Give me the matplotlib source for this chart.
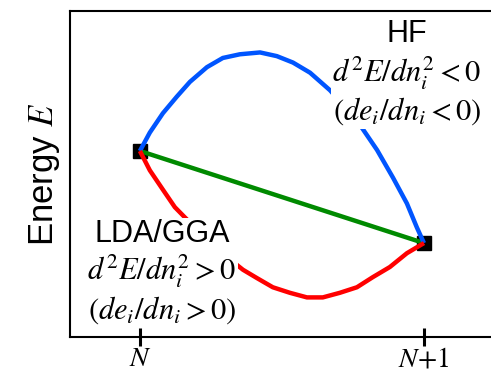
import matplotlib
matplotlib.use("Agg")
import matplotlib.pyplot as plt

plt.rcParams["font.family"] = "Liberation Sans"
plt.rcParams["mathtext.fontset"] = "stix"

# particle number, in units of one electron added to N
hf_n = [0.0, 0.035, 0.081, 0.130, 0.176, 0.236, 0.292, 0.352, 0.423, 0.482,
        0.539, 0.599, 0.669, 0.725, 0.782, 0.835, 0.891, 0.940, 0.975, 1.0]
hf_e = [1.0, 1.20, 1.41, 1.59, 1.75, 1.91, 2.01, 2.05, 2.07, 2.03,
        1.96, 1.85, 1.66, 1.47, 1.25, 1.01, 0.71, 0.43, 0.17, 0.0]

lda_n = [0.0, 0.035, 0.081, 0.123, 0.158, 0.204, 0.254, 0.306, 0.363, 0.412,
         0.468, 0.528, 0.588, 0.644, 0.704, 0.764, 0.820, 0.880, 0.940, 1.0]
lda_e = [1.0, 0.79, 0.58, 0.39, 0.28, 0.14, 0.0, -0.15, -0.29, -0.38,
         -0.48, -0.54, -0.59, -0.59, -0.54, -0.48, -0.37, -0.26, -0.11, 0.0]

exact_n = [0.0, 1.0]
exact_e = [1.0, 0.0]

tick_pos = [0, 1]
tick_labels = [r"$N$", r"$N{+}1$"]

fig = plt.figure(figsize=(4.91, 3.76), dpi=100)
ax = fig.add_axes([70 / 491, 39 / 376, 421 / 491, 326 / 376])

line_kw = dict(lw=3.2, zorder=3, solid_capstyle="butt", solid_joinstyle="round")
ax.plot(exact_n, exact_e, color="#008a00", **line_kw)
ax.plot(hf_n, hf_e, color="#0055ff", **line_kw)
ax.plot(lda_n, lda_e, color="#ff0000", **line_kw)
ax.plot(exact_n, exact_e, ls="none", marker="s", ms=10, color="black", zorder=2)

ax.set_xlim(-0.246, 1.236)
ax.set_ylim(-1.02, 2.52)
ax.spines["right"].set_visible(False)
for s in ("left", "top", "bottom"):
    ax.spines[s].set_linewidth(1.5)

ax.set_yticks([])
ax.set_xticks(tick_pos)
ax.set_xticklabels(tick_labels, fontsize=20)
ax.tick_params(axis="x", direction="inout", length=13, width=2.2, pad=0)

ax.set_ylabel(r"Energy $E$", fontsize=25, labelpad=6)

box = dict(facecolor="white", edgecolor="none", pad=1)
ax.text(0.94, 2.185, "HF", fontsize=22, ha="center", va="baseline", zorder=5, bbox=box)
ax.text(0.94, 1.75, r"$d^2E/dn_i^2 < 0$", fontsize=22, ha="center", va="baseline",
        zorder=5, bbox=box)
ax.text(0.94, 1.337, r"$(de_i/dn_i < 0)$", fontsize=22, ha="center", va="baseline",
        zorder=5, bbox=box)

ax.text(0.077, 0.011, "LDA/GGA", fontsize=22, ha="center", va="baseline", zorder=5, bbox=box)
ax.text(0.077, -0.402, r"$d^2E/dn_i^2 > 0$", fontsize=22, ha="center", va="baseline",
        zorder=5, bbox=box)
ax.text(0.077, -0.815, r"$(de_i/dn_i > 0)$", fontsize=22, ha="center", va="baseline",
        zorder=5, bbox=box)

fig.savefig("out.png", dpi=100)
